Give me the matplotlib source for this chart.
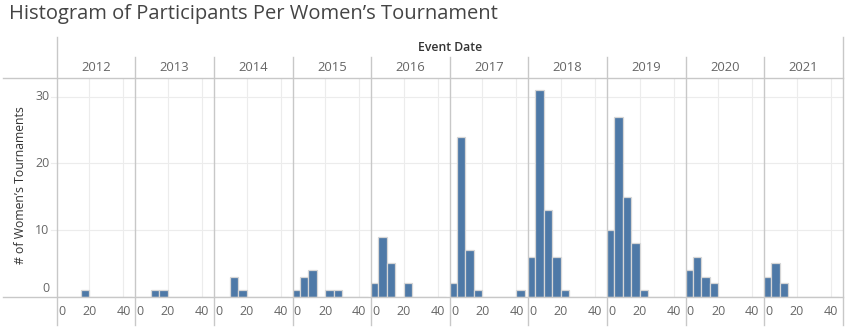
import matplotlib
matplotlib.use("Agg")
import matplotlib.pyplot as plt
from matplotlib.lines import Line2D
from matplotlib import transforms

plt.rcParams['font.family'] = ['Open Sans', 'DejaVu Sans']

# ---- data ----
years = ["2012", "2013", "2014", "2015", "2016", "2017", "2018", "2019", "2020", "2021"]
bin_starts = [0, 5, 10, 15, 20, 25, 30, 35, 40]
bin_width = 5
counts_2012 = [0, 0, 0, 1, 0, 0, 0, 0, 0]
counts_2013 = [0, 0, 1, 1, 0, 0, 0, 0, 0]
counts_2014 = [0, 0, 3, 1, 0, 0, 0, 0, 0]
counts_2015 = [1, 3, 4, 0, 1, 1, 0, 0, 0]
counts_2016 = [2, 9, 5, 0, 2, 0, 0, 0, 0]
counts_2017 = [2, 24, 7, 1, 0, 0, 0, 0, 1]
counts_2018 = [6, 31, 13, 6, 1, 0, 0, 0, 0]
counts_2019 = [10, 27, 15, 8, 1, 0, 0, 0, 0]
counts_2020 = [4, 6, 3, 2, 0, 0, 0, 0, 0]
counts_2021 = [3, 5, 2, 0, 0, 0, 0, 0, 0]
all_counts = [counts_2012, counts_2013, counts_2014, counts_2015, counts_2016,
              counts_2017, counts_2018, counts_2019, counts_2020, counts_2021]
x_ticks = [0, 20, 40]
y_ticks = [0, 10, 20, 30]

title = "Histogram of Participants Per Women\u2019s Tournament"
col_title = "Event Date"
y_title = "# of Women\u2019s Tournaments"

# ---- layout (pixels) ----
W, H = 846, 330
fig = plt.figure(figsize=(W / 100, H / 100), dpi=100)
fx = lambda x: x / W
fy = lambda y: 1 - y / H

left0 = 56.7
pw = 78.6
top_px = 77.7
base_px = 296.7
frame_c = "#c8c8c8"
grid_c = "#ececec"
bar_c = "#4e79a7"
tick_c = "#666666"
XMIN, XMAX = 0.8, 47.0
YMAX = 32.85

axes = []
for i, (yr, cnts) in enumerate(zip(years, all_counts)):
    l = left0 + i * pw
    ax = fig.add_axes([fx(l), fy(base_px), pw / W, (base_px - top_px) / H])
    ax.set_xlim(XMIN, XMAX)
    ax.set_ylim(0, YMAX)
    for s in ax.spines.values():
        s.set_visible(False)
    ax.set_xticks([])
    ax.set_yticks([])
    ax.patch.set_alpha(0)
    for yv in y_ticks[1:]:
        ax.axhline(yv, color=grid_c, lw=0.8, zorder=0)
    for xv in x_ticks[1:]:
        ax.axvline(xv, color=grid_c, lw=0.8, zorder=0)
    ax.bar(bin_starts, cnts, width=bin_width, align='edge', color=bar_c,
           edgecolor="#d6d6d6", linewidth=0.9, zorder=2)
    # x tick labels
    tr = ax.get_xaxis_transform()
    for xv in x_ticks:
        if xv < XMIN:
            ax.text(XMIN + 0.8, -0.068, str(xv), transform=tr, ha='left', va='center',
                    fontsize=9, color=tick_c, clip_on=False)
        else:
            ax.text(xv, -0.068, str(xv), transform=tr, ha='center', va='center',
                    fontsize=9, color=tick_c, clip_on=False)
    # year header
    fig.text(fx(l + pw / 2), fy(67.7), yr, ha='center', va='center',
             fontsize=9.4, color=tick_c)
    axes.append(ax)

# y tick labels + short ticks
ax0 = axes[0]
btr = transforms.blended_transform_factory(fig.transFigure, ax0.transData)
for yv in y_ticks:
    yy = yv if yv > 0 else 1.25
    ax0.text(fx(49.5), yy, str(yv), transform=btr, ha='right', va='center',
             fontsize=9, color=tick_c, clip_on=False)
    if yv > 0:
        fig.add_artist(Line2D([fx(51), fx(left0)], [yv, yv], color=grid_c, lw=0.8,
                              transform=btr))

# frame lines
right_px = left0 + 10 * pw
def hline(y, x0, x1):
    fig.add_artist(Line2D([fx(x0), fx(x1)], [fy(y), fy(y)], color=frame_c, lw=1.0))
def vline(x, y0, y1):
    fig.add_artist(Line2D([fx(x), fx(x)], [fy(y0), fy(y1)], color=frame_c, lw=1.0))

hline(top_px, 3, right_px + 0.5)
hline(base_px, 3, right_px + 0.5)
vline(left0, 37, 325)
vline(right_px, 37, 325)
for i in range(1, 10):
    vline(left0 + i * pw, 57, 325)

# titles
fig.text(fx(9), fy(14.5), title, ha='left', va='center', fontsize=14.5, color="#444444")
fig.text(fx((left0 + right_px) / 2), fy(47.3), col_title, ha='center', va='center',
         fontsize=8.8, color="#333333", fontweight='semibold')
fig.text(fx(20.7), fy(185), y_title, rotation=90, ha='center', va='center',
         fontsize=8.8, color="#333333")

fig.savefig("out.png", dpi=100)
